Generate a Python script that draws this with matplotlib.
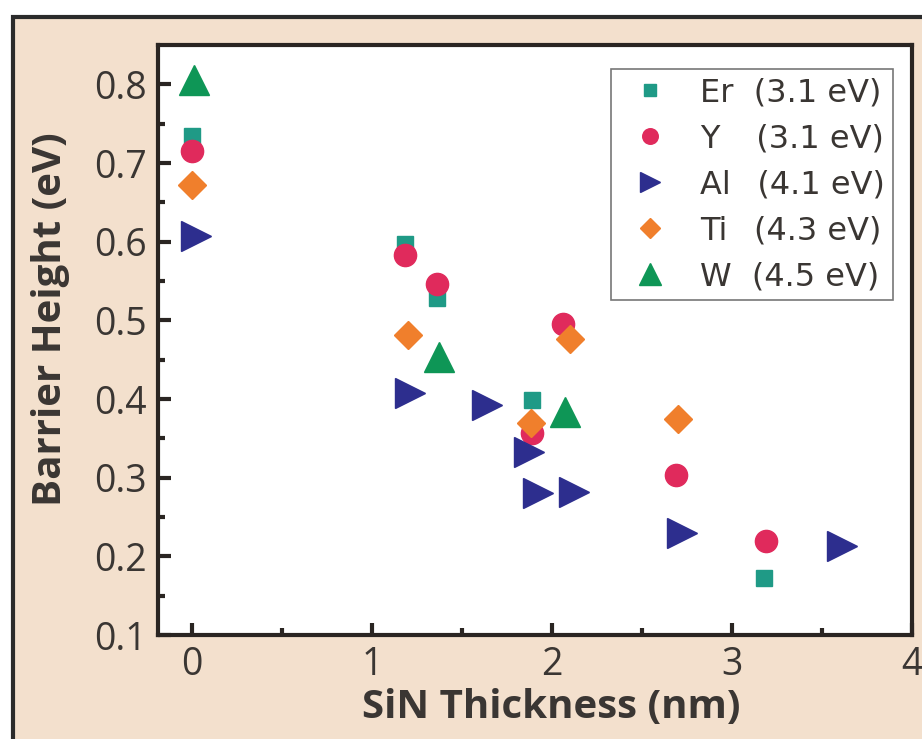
import matplotlib
matplotlib.use("Agg")
import matplotlib.pyplot as plt
from matplotlib.patches import Rectangle

# data (SiN thickness in nm, barrier height in eV)
er_x = [0.0, 1.18, 1.36, 1.89, 3.18]
er_y = [0.734, 0.597, 0.529, 0.399, 0.173]

y_x = [0.0, 1.18, 1.36, 1.89, 2.06, 2.69, 3.19]
y_y = [0.715, 0.583, 0.546, 0.357, 0.495, 0.304, 0.220]

al_x = [0.02, 1.21, 1.64, 1.87, 1.92, 2.12, 2.72, 3.61]
al_y = [0.607, 0.408, 0.393, 0.332, 0.280, 0.282, 0.230, 0.213]

ti_x = [0.0, 1.20, 1.88, 2.10, 2.70]
ti_y = [0.672, 0.481, 0.369, 0.476, 0.375]

w_x = [0.01, 1.37, 2.07]
w_y = [0.805, 0.454, 0.384]

labels = ["Er  (3.1 eV)", "Y   \u2009(3.1 eV)", "Al\u2009  (4.1 eV)",
          "Ti\u2009  (4.3 eV)", "W  (4.5 eV)"]

beige = "#f3e0cd"
ink = "#3a3633"

fig = plt.figure(figsize=(9.22, 7.39), dpi=100)
fig.patch.set_facecolor("white")

# outer panel frame (beige, dark line on left and top)
fig.patches.append(Rectangle((13 / 922, -0.1), 1.2, 1 - 17 / 739 + 0.1,
                             transform=fig.transFigure, facecolor=beige,
                             edgecolor="#2b2b2b", linewidth=3, zorder=-5))

ax = fig.add_axes([158 / 922, 104 / 739, 754 / 922, 590 / 739])
ax.set_facecolor("white")

ax.plot(er_x, er_y, "s", color="#1f9a86", markersize=12, label=labels[0], linestyle="none")
ax.plot(y_x, y_y, "o", color="#e02a5c", markersize=16, label=labels[1], linestyle="none")
ax.plot(al_x, al_y, ">", color="#2d2e8e", markersize=21, label=labels[2], linestyle="none")
ax.plot(ti_x, ti_y, "D", color="#f07f2c", markersize=14, label=labels[3], linestyle="none")
ax.plot(w_x, w_y, "^", color="#0e9656", markersize=22, label=labels[4], linestyle="none")

ax.set_xlim(-0.19, 4.0)
ax.set_ylim(0.1, 0.85)
ax.set_xticks([0, 1, 2, 3, 4])
ax.set_xticks([0.5, 1.5, 2.5, 3.5], minor=True)
ax.set_yticks([0.1, 0.2, 0.3, 0.4, 0.5, 0.6, 0.7, 0.8])
ax.set_yticks([0.15, 0.25, 0.35, 0.45, 0.55, 0.65, 0.75], minor=True)
ax.set_yticklabels(["0.1", "0.2", "0.3", "0.4", "0.5", "0.6", "0.7", "0.8"])

for s in ax.spines.values():
    s.set_linewidth(3)
    s.set_color("#2a2522")

ax.tick_params(which="major", direction="in", length=9, width=3, color="#2a2522",
               labelsize=27, labelcolor=ink, pad=8)
ax.tick_params(which="minor", direction="in", length=5, width=3, color="#2a2522")
for t in ax.get_xticklabels() + ax.get_yticklabels():
    t.set_family("Open Sans")

ax.set_xlabel("SiN Thickness (nm)", fontsize=29, fontweight="bold", family="Open Sans",
              color=ink)
ax.set_ylabel("Barrier Height (eV)", fontsize=29, fontweight="bold", family="Open Sans",
              color=ink)
ax.xaxis.set_label_coords(0.521, -0.09)
ax.yaxis.set_label_coords(-0.117, 0.536)

leg = ax.legend(loc="upper right", bbox_to_anchor=(0.975, 0.959), borderaxespad=0,
                prop={"family": "DejaVu Sans", "size": 23}, fancybox=False,
                labelspacing=0.47, handletextpad=0.6, handlelength=1.95,
                borderpad=0.25, markerscale=0.7)
leg.get_frame().set_edgecolor("#555555")
leg.get_frame().set_linewidth(1.2)
for t in leg.get_texts():
    t.set_color(ink)

fig.savefig("out.png", dpi=100, facecolor=fig.get_facecolor())
